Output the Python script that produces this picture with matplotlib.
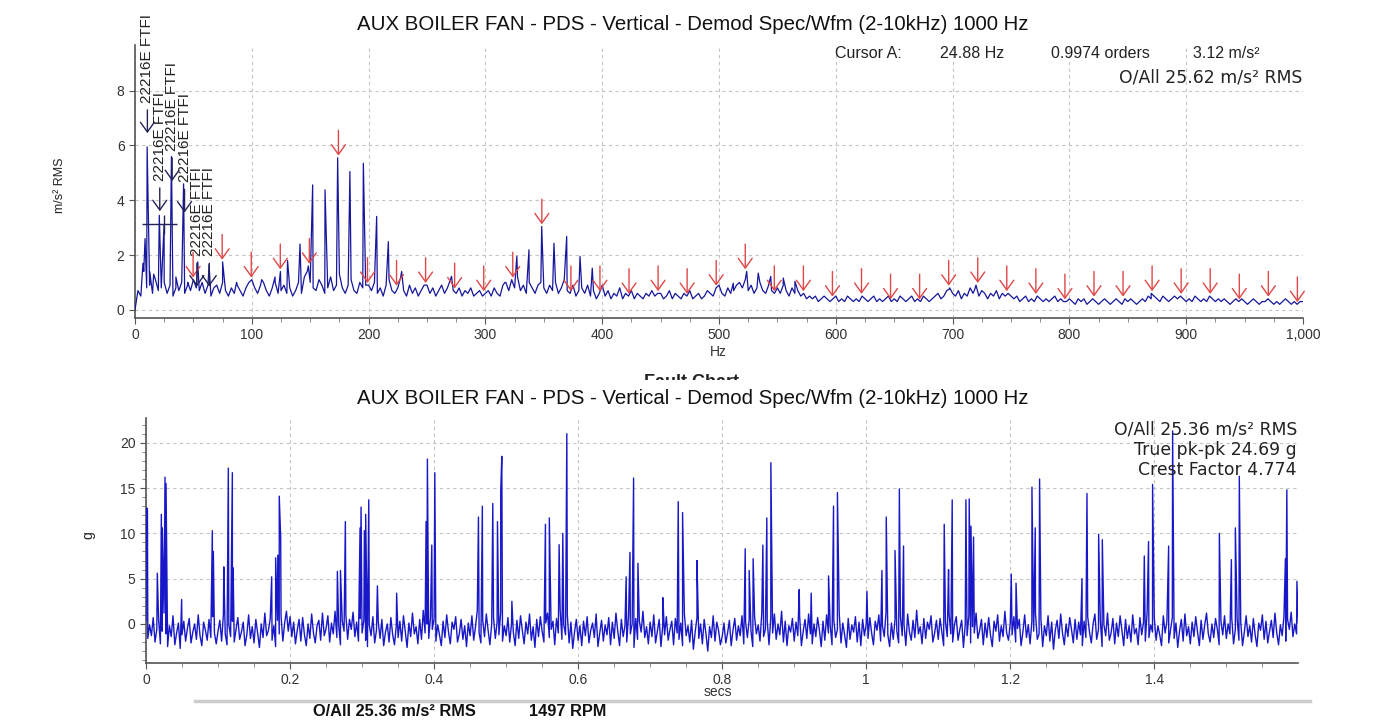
import matplotlib
matplotlib.use('Agg')
import matplotlib.pyplot as plt
from matplotlib.lines import Line2D
from matplotlib.patches import Rectangle
from matplotlib.ticker import FuncFormatter, MultipleLocator
import numpy as np

TITLE = "AUX BOILER FAN - PDS - Vertical - Demod Spec/Wfm (2-10kHz) 1000 Hz"

# ── spectrum (m/s² RMS), floor sampled every 2.5 Hz from 0 to 1000 Hz ─────────
spec_floor = [
    0.0, 0.7, 0.5, 1.4, 0.8, 0.9, 0.6, 1.1, 0.7, 0.8, 1.0, 0.6, 0.9, 0.5, 0.8, 0.7, 1.0, 0.6, 0.9, 0.7,
    1.1, 0.8, 0.7, 1.0, 0.6, 0.9, 0.5, 0.8, 0.9, 0.6, 1.0, 0.7, 0.5, 0.8, 0.6, 0.9, 0.7, 0.5, 0.8, 1.0,
    1.1, 0.8, 0.6, 0.9, 1.0, 0.7, 0.5, 0.8, 1.0, 0.6, 0.7, 0.9, 0.6, 0.8, 0.5, 0.7, 1.0, 0.6, 1.2, 1.4,
    1.0, 0.8, 0.7, 1.1, 0.9, 0.6, 0.8, 1.2, 0.7, 0.9, 1.3, 0.8, 0.6, 0.9, 1.1, 0.7, 0.6, 1.0, 0.8, 0.9,
    0.9, 0.7, 1.0, 0.6, 0.8, 0.5, 0.9, 1.1, 0.7, 0.6, 0.8, 1.2, 0.7, 0.5, 0.9, 0.6, 0.8, 0.5, 0.7, 0.9,
    0.9, 0.6, 0.8, 0.5, 0.7, 0.9, 0.6, 0.8, 1.1, 0.7, 0.6, 0.8, 0.5, 0.7, 0.6, 0.8, 0.5, 0.6, 0.7, 0.5,
    0.6, 0.7, 0.5, 0.8, 0.6, 0.5, 0.9, 1.0, 0.7, 1.1, 0.8, 1.2, 0.7, 0.9, 0.6, 1.0, 0.8, 0.6, 0.9, 1.0,
    0.8, 0.6, 0.9, 0.7, 1.0, 0.6, 0.8, 1.1, 0.7, 0.6, 0.9, 0.5, 0.7, 0.8, 0.6, 0.9, 0.5, 0.7, 0.4, 0.6,
    0.9, 0.5, 0.7, 0.4, 0.6, 0.5, 0.8, 0.4, 0.6, 0.5, 0.7, 0.4, 0.6, 0.5, 0.4, 0.6, 0.5, 0.7, 0.5, 0.6,
    0.6, 0.4, 0.5, 0.7, 0.4, 0.6, 0.5, 0.4, 0.6, 0.5, 0.7, 0.4, 0.5, 0.6, 0.4, 0.5, 0.7, 0.6, 0.5, 0.8,
    0.9, 0.6, 0.5, 0.8, 0.6, 0.7, 0.9, 1.0, 0.8, 1.1, 0.7, 0.9, 0.6, 0.8, 1.0, 0.7, 0.6, 0.9, 0.7, 0.6,
    0.8, 0.6, 0.9, 0.7, 0.5, 0.8, 0.6, 0.7, 0.5, 0.6, 0.4, 0.5, 0.4, 0.5, 0.3, 0.4, 0.5, 0.4, 0.3, 0.4,
    0.5, 0.3, 0.4, 0.3, 0.5, 0.4, 0.3, 0.4, 0.3, 0.5, 0.4, 0.3, 0.4, 0.5, 0.3, 0.4, 0.3, 0.4, 0.5, 0.3,
    0.4, 0.3, 0.5, 0.4, 0.3, 0.4, 0.5, 0.3, 0.4, 0.3, 0.5, 0.4, 0.3, 0.4, 0.5, 0.6, 0.4, 0.5, 0.7, 0.8,
    0.6, 0.5, 0.7, 0.4, 0.6, 0.5, 0.8, 0.6, 0.9, 0.5, 0.7, 0.6, 0.4, 0.6, 0.5, 0.7, 0.4, 0.6, 0.5, 0.6,
    0.5, 0.4, 0.5, 0.3, 0.4, 0.5, 0.3, 0.4, 0.3, 0.5, 0.4, 0.3, 0.4, 0.3, 0.4, 0.5, 0.3, 0.4, 0.3, 0.3,
    0.4, 0.3, 0.2, 0.4, 0.3, 0.4, 0.2, 0.3, 0.4, 0.3, 0.2, 0.3, 0.4, 0.3, 0.2, 0.3, 0.4, 0.3, 0.2, 0.4,
    0.3, 0.4, 0.3, 0.2, 0.3, 0.4, 0.3, 0.5, 0.4, 0.5, 0.4, 0.3, 0.5, 0.4, 0.3, 0.4, 0.5, 0.4, 0.5, 0.4,
    0.3, 0.4, 0.3, 0.5, 0.4, 0.3, 0.4, 0.3, 0.5, 0.4, 0.3, 0.4, 0.3, 0.4, 0.3, 0.2, 0.3, 0.4, 0.3, 0.4,
    0.3, 0.2, 0.3, 0.4, 0.3, 0.2, 0.3, 0.3, 0.4, 0.3, 0.2, 0.3, 0.2, 0.3, 0.4, 0.3, 0.2, 0.3, 0.2, 0.3,
    0.3,
]
spec_peak_hz = [6.8, 8.6, 10.4, 12.6, 16.0, 20.8, 24.9, 31.2, 35.0, 41.6, 45.2,
                53.7, 63.4, 75.0, 87.0, 108.5, 119.9, 124.5, 130.6, 141.3, 148.4,
                152.1, 162.7, 173.5, 184.0, 195.5, 206.9, 216.9, 228.3, 271.0,
                316.8, 326.9, 337.3, 348.2, 358.7, 369.6, 381.0, 391.5,
                512.2, 523.7, 533.6, 544.3, 555.0, 565.0, 697.0, 719.0, 870.0]
spec_peak_amp = [1.7, 2.6, 5.95, 1.4, 1.3, 3.45, 3.12, 5.6, 1.2, 4.6, 1.0,
                 1.75, 1.65, 1.75, 1.0, 1.1, 1.2, 1.4, 1.8, 2.4, 1.6,
                 4.56, 4.38, 5.55, 5.05, 5.35, 3.41, 2.49, 1.4, 1.22,
                 1.0, 1.95, 2.19, 3.04, 2.43, 2.68, 1.95, 1.52,
                 0.97, 1.4, 1.34, 1.22, 1.16, 1.04, 0.75, 0.75, 0.6]

cursor_hz = 24.88
cursor_amp = 3.12
harmonic_orders = list(range(2, 41))

ftf_hz = [10.6, 21.2, 31.8, 42.4, 53.0, 63.6]
ftf_tip = [6.45, 3.6, 4.7, 3.55, 0.85, 0.85]
ftf_label = "22216E FTFI"

# ── waveform (g), floor sampled every 2.5 ms from 0 to 1.6 s ──────────────────
wfm_dc = -0.4
wfm_floor = [
    0.8, -1.2, 0.3, -0.9, 1.1, -1.6, -0.2, 0.9, -1.8, -0.4, 1.6, -0.7, -2.1, 0.2, -1.0, 1.3, -1.9, -0.6, 0.5, -2.3,
    -0.8, 0.7, -1.5, -0.1, 1.0, -1.7, -0.5, 0.4, -1.3, 1.4, -0.9, -2.0, 0.6, -0.3, -1.4, 0.9, -1.1, 1.2, -0.6, -1.8,
    -0.4, 0.8, -1.5, 1.5, -0.7, -1.9, 0.3, -1.0, 0.7, -1.6, -0.2, 1.1, -1.3, -0.5, 0.6, -2.0, -0.8, 1.4, -1.2, 0.1,
    -1.7, 0.9, -0.6, -2.2, 0.4, -1.1, 1.6, -0.9, -0.3, 1.0, -1.4, 0.2, -2.1, 0.8, -0.7, 1.3, -1.5, 0.5, 1.8, -0.4,
    1.2, -1.0, 0.6, -1.8, -0.3, 0.9, -1.5, 1.1, -0.8, -2.0, 0.4, -1.2, 1.5, -0.6, -1.7, 0.2, 0.8, -1.4, 1.6, -0.9,
    -0.1, 1.3, -1.6, 0.5, -0.7, 1.8, -1.1, 0.3, -1.9, 0.7, -0.4, 1.4, -1.3, 0.9, -0.2, 1.7, -1.0, 0.6, -1.5, 1.0,
    -0.6, 0.8, -1.4, -2.1, 0.3, -0.9, 1.2, -1.7, -0.3, 0.6, -1.2, 0.9, -2.0, -0.5, 0.4, -1.6, 1.1, -0.8, -1.9, 0.2,
    -1.1, 0.7, -1.5, 1.3, -0.4, -2.2, 0.5, -1.0, 1.6, -0.7, 0.1, -1.8, 0.9, -1.3, 1.9, -0.6, 0.4, -1.2, 1.1, -0.2,
    1.0, -1.5, 0.3, -0.8, -2.0, 0.7, -1.1, 1.4, -0.5, -1.8, 0.6, -0.2, 1.2, -1.6, -0.7, 0.9, -1.3, 0.2, -2.1, 0.5,
    -0.9, 1.3, -1.4, 0.1, 1.9, -0.6, -1.7, 0.8, -1.0, 1.5, -0.3, -1.9, 0.4, 1.1, -1.2, 0.6, -0.8, 1.7, -1.5, 0.2,
    -0.9, 1.1, -1.6, 0.4, -0.5, -2.0, 0.8, -1.2, 1.3, -0.3, -1.8, 0.6, -0.7, 1.5, -1.4, 0.1, -2.2, 0.9, -1.0, 1.2,
    -0.4, -1.6, 0.5, 1.6, -1.1, -0.2, 0.7, -1.9, 1.0, -0.6, 2.0, -1.3, 0.3, -0.8, 1.4, -1.7, 0.6, -2.3, -0.5, 0.9,
    -1.4, 0.2, -2.0, 0.7, -0.9, 1.2, -1.7, -0.3, 0.5, -1.1, 1.5, -2.1, -0.6, 0.8, -1.5, 0.3, -0.8, 1.1, -1.9, 0.6,
    -1.2, 1.6, -0.4, -2.0, 0.9, -1.0, 0.2, -1.6, 1.3, -0.7, 0.4, -2.2, 1.0, -1.3, 0.7, -0.5, 1.8, -1.1, 0.1, -1.8,
    0.6, -1.0, 1.4, -1.7, -0.4, 0.9, -2.1, 0.3, -0.8, 1.2, -1.4, -0.2, 0.7, -1.9, 1.0, -0.6, -1.3, 0.5, -2.0, 1.5,
    -0.9, 0.2, -1.6, 0.8, -2.4, -0.5, 1.1, -1.2, 0.4, -1.8, 0.9, -0.7, -2.6, 0.1, -1.1, 1.3, -1.5, 0.6, -0.3, -1.9,
    -1.0, 0.5, -1.7, -0.6, 0.8, -2.0, -0.3, 1.0, -1.4, 0.2, -0.9, 1.3, -1.8, 0.6, -1.1, 0.9, -0.4, -2.1, 1.2, -0.7,
    0.3, -1.5, 1.6, -1.0, -0.2, 0.8, -1.9, 1.1, -0.6, 1.5, -1.3, 0.4, -0.8, 1.8, -1.6, 0.7, -2.0, 0.2, -0.5, 1.0,
    -1.5, 0.6, -0.9, 1.3, -2.0, -0.4, 0.9, -1.2, 1.5, -0.7, -1.8, 0.4, -1.0, 1.1, -0.3, -2.1, 0.7, -1.4, 1.4, -0.6,
    0.2, -1.9, 0.8, -1.1, -0.2, 1.6, -1.7, 0.5, -0.8, -2.2, 1.0, -1.3, 0.3, -0.5, 1.2, -1.6, 0.6, -2.0, 0.9, -0.9,
    0.4, -1.2, 1.1, -0.6, -1.9, 0.7, -0.3, 1.4, -1.5, 0.2, -1.0, 1.7, -0.8, -2.1, 0.5, -1.3, 0.9, -0.4, -1.7, 1.2,
    -0.9, 0.3, -2.0, 1.5, -0.5, -1.4, 0.8, -1.1, 1.9, -0.7, 0.1, -1.8, 1.0, -1.2, 0.6, -0.2, 1.3, -1.6, -0.6, 0.8,
    -1.3, 1.0, -0.5, -2.0, 0.6, -1.0, 1.5, -0.7, -1.6, 0.3, 1.2, -1.4, -0.2, 0.8, -2.2, 0.4, -0.9, 1.3, -1.7, 0.1,
    -0.6, 1.6, -1.2, -0.3, 0.9, -1.9, 0.5, -1.1, 1.1, -0.8, -2.1, 0.7, -0.4, 1.4, -1.5, 0.2, -1.0, 1.8, -0.6, -1.4,
    0.5, -0.8, 1.2, -1.6, -0.1, 0.9, -2.0, -0.5, 1.4, -1.1, 0.3, -1.8, 0.7, -0.4, 1.6, -1.3, -0.7, 1.0, -2.1, 0.2,
    -0.9, 1.3, -1.5, 0.6, -2.4, -0.3, 0.8, -1.2, 1.5, -0.6, -1.9, 0.4, -1.0, 1.1, -0.2, -1.7, 0.9, -1.3, 0.6, -0.8,
    -2.0, 0.7, -1.1, 1.2, -0.5, -1.7, 0.4, 1.5, -1.3, -0.2, 0.8, -2.1, 0.3, -0.9, 1.6, -1.4, -0.6, 1.0, -1.8, 0.5,
    -1.0, 1.3, -0.3, -2.0, 0.9, -1.2, 0.2, -1.6, 1.4, -0.7, -0.1, -1.9, 1.1, -0.8, 0.6, -1.5, 1.7, -1.1, 0.3, -0.5,
    1.0, -1.4, 0.2, -0.8, -2.0, 1.3, -0.6, 0.7, -1.7, -0.3, 1.1, -1.2, 0.5, -2.2, -0.4, 0.9, -1.5, 1.5, -0.9, 0.1,
    -1.8, 0.6, -1.0, 1.2, -0.5, -2.0, 0.8, -1.3, 0.3, 1.6, -0.7, -1.6, 0.4, -1.1, 1.0, -0.2, -1.9, 0.7, -0.8, 1.3,
    -1.2, 0.4, -0.7, 1.1, -1.8, -0.2, 0.9, -1.4, 0.6, -2.0, -0.5, 1.3, -1.0, 0.2, -1.6, 1.0, -0.8, -2.1, 0.5, -0.3,
    1.4, -1.3, 0.7, -1.7, -0.4, 0.8, -1.1, 1.6, -0.6, -1.9, 0.3, -0.9, 1.2, -1.5, 0.9, -0.2, 1.7, -1.0, 0.4, -0.7,
    0.5,
]
wfm_spike_s = [0.0005, 0.0012, 0.0020, 0.0157, 0.0213, 0.0227, 0.0264, 0.0278, 0.0495,
               0.0921, 0.0935, 0.1080, 0.1143, 0.1199, 0.1210, 0.1745, 0.1800, 0.1830,
               0.1850, 0.1870, 0.2657, 0.2700, 0.2768, 0.2972, 0.2986, 0.3032, 0.3050,
               0.3093, 0.3213, 0.3480, 0.3889, 0.3907, 0.3968, 0.4010, 0.4616, 0.4670,
               0.4815, 0.4880, 0.4925, 0.4940, 0.5080, 0.5546, 0.5600, 0.5736, 0.5787,
               0.5843, 0.6667, 0.6720, 0.6770, 0.6830, 0.7176, 0.7390, 0.7450, 0.7650,
               0.8320, 0.8375, 0.8430, 0.8565, 0.8620, 0.8676, 0.9070, 0.9236, 0.9477,
               0.9546, 0.9600, 1.0010, 1.0218, 1.0278, 1.0400, 1.0460, 1.0518, 1.1083,
               1.1143, 1.1194, 1.1384, 1.1430, 1.1454, 1.1490, 1.2014, 1.2080, 1.2301,
               1.2347, 1.2407, 1.2996, 1.3065, 1.3227, 1.3278, 1.3861, 1.3920, 1.3976,
               1.4199, 1.4254, 1.4903, 1.5070, 1.5125, 1.5180, 1.5820, 1.5840, 1.5980]
wfm_spike_g = [12.0, 12.8, 12.5, 5.6, 12.1, 10.6, 16.2, 15.5, 2.7,
               10.3, 8.0, 6.3, 17.2, 16.7, 6.2, 5.2, 7.3, 7.6,
               14.1, 9.5, 5.8, 5.9, 11.3, 10.6, 12.9, 10.3, 12.1,
               13.7, 4.2, 3.4, 11.3, 18.2, 8.7, 16.7, 11.8, 13.0,
               13.3, 11.3, 14.6, 18.5, 2.5, 11.0, 11.7, 8.75, 10.0,
               21.0, 5.2, 7.9, 16.1, 6.7, 2.9, 13.5, 12.3, 7.0,
               8.3, 5.9, 7.2, 8.7, 11.7, 17.8, 3.8, 3.4, 5.3,
               13.0, 14.5, 3.6, 5.9, 11.8, 8.1, 14.9, 8.6, 11.0,
               6.0, 13.7, 13.7, 13.8, 10.8, 9.6, 5.5, 4.5, 15.1,
               10.6, 16.0, 5.0, 14.4, 9.9, 9.3, 7.5, 9.1, 15.4,
               8.6, 21.3, 10.0, 7.1, 10.6, 16.3, 7.2, 14.8, 4.7]

W, H = 1400, 723


def px(x, y):
    """pixel position (from top-left) -> figure fraction"""
    return x / W, 1 - y / H


def merged(grid_step, floor, extra_x, extra_y):
    gx = np.arange(len(floor)) * grid_step
    x = np.concatenate([gx, extra_x])
    y = np.concatenate([np.asarray(floor, float), extra_y])
    order = np.argsort(x, kind='stable')
    return x[order], y[order]


def style_axes(ax):
    for side in ('top', 'right'):
        ax.spines[side].set_visible(False)
    for side in ('left', 'bottom'):
        ax.spines[side].set_color('#555555')
        ax.spines[side].set_linewidth(1.2)
    ax.tick_params(which='major', length=4, color='#555555', labelsize=10,
                   labelcolor='#333333')
    ax.tick_params(which='minor', length=3, color='#777777')
    ax.grid(True, which='major', ls=(0, (3, 3)), color='#c4c4c4', lw=0.8)
    for lab in ax.get_xticklabels() + ax.get_yticklabels():
        lab.set_family('Liberation Sans')


fig = plt.figure(figsize=(W / 100, H / 100), dpi=100)
fig.patch.set_facecolor('white')

# ── spectrum panel ────────────────────────────────────────────────────────────
ax1 = fig.add_axes([135 / W, 1 - 318 / H, (1303 - 135) / W, (318 - 45) / H])
sx, sy = merged(2.5, spec_floor, spec_peak_hz, spec_peak_amp)
ax1.plot(sx, sy, color='#16169c', lw=0.9, zorder=3)
ax1.set_xlim(0, 1000)
ax1.set_ylim(-0.3, 9.67)
ax1.xaxis.set_major_locator(MultipleLocator(100))
ax1.xaxis.set_minor_locator(MultipleLocator(25))
ax1.yaxis.set_major_locator(MultipleLocator(2))
ax1.xaxis.set_major_formatter(FuncFormatter(lambda v, p: f"{int(v):,}"))
style_axes(ax1)

arrow_style = '->,head_length=0.7,head_width=0.5'

# harmonic markers of the cursor frequency
for n in harmonic_orders:
    f = n * cursor_hz
    near = (sx > f - 1.6) & (sx < f + 1.6)
    tip = sy[near].max() + 0.08
    ax1.annotate('', xy=(f, tip), xytext=(f, tip + 0.92),
                 arrowprops=dict(arrowstyle=arrow_style, color='#e04848', lw=1.0,
                                 shrinkA=0, shrinkB=0),
                 zorder=4)

# bearing cage frequency markers
for f, tip in zip(ftf_hz, ftf_tip):
    ax1.annotate('', xy=(f, tip), xytext=(f, tip + 0.85),
                 arrowprops=dict(arrowstyle=arrow_style, color='#23235a', lw=1.0,
                                 shrinkA=0, shrinkB=0),
                 zorder=4)
    ax1.text(f, tip + 1.1, ftf_label, rotation=90, ha='center', va='bottom',
             fontsize=11, color='#222222', family='Liberation Sans', clip_on=False)

# cursor cross
ax1.hlines(cursor_amp, 6, 36, color='#23235a', lw=1.0, zorder=4)
ax1.vlines(cursor_hz, cursor_amp - 0.35, cursor_amp + 0.35, color='#23235a', lw=1.0, zorder=4)

fig.text(*px(693, 25), TITLE, ha='center', va='center', fontsize=14.7,
         family='Liberation Sans', color='#111111')
cur_y = 53
for x, s in [(835, "Cursor A:"), (940, "24.88 Hz"), (1051, "0.9974 orders"), (1193, "3.12 m/s²")]:
    fig.text(*px(x, cur_y), s, ha='left', va='center', fontsize=11.5,
             family='Liberation Sans', color='#222222')
fig.text(*px(1302, 77), "O/All 25.62 m/s² RMS", ha='right', va='center',
         fontsize=12.4, family='DejaVu Sans', color='#222222')
fig.text(*px(60, 185), "m/s² RMS", rotation=90, ha='center', va='center',
         fontsize=9, family='Liberation Sans', color='#222222')
fig.text(*px(718, 352), "Hz", ha='center', va='center', fontsize=10,
         family='Liberation Sans', color='#333333')

# half-hidden title of the chart behind
fig.text(*px(692, 374), "Fault Chart", ha='center', va='top', fontsize=13,
         weight='bold', family='Liberation Sans', color='#222222', zorder=1)
fig.patches.append(Rectangle(px(400, 390), 600 / W, 10 / H, transform=fig.transFigure,
                             facecolor='white', edgecolor='none', zorder=2))

# ── waveform panel ────────────────────────────────────────────────────────────
ax2 = fig.add_axes([146 / W, 1 - 662.7 / H, (1298 - 146) / W, (662.7 - 418.3) / H])
wx, wy = merged(0.0025, np.asarray(wfm_floor) + wfm_dc, wfm_spike_s, wfm_spike_g)
ax2.plot(wx, wy, color='#1818c8', lw=1.0, zorder=3)
ax2.set_xlim(0, 1.5995)
ax2.set_ylim(-4.28, 22.7)
ax2.xaxis.set_major_locator(MultipleLocator(0.2))
ax2.xaxis.set_minor_locator(MultipleLocator(0.05))
ax2.yaxis.set_major_locator(MultipleLocator(5))
ax2.yaxis.set_minor_locator(MultipleLocator(1))
ax2.xaxis.set_major_formatter(FuncFormatter(lambda v, p: f"{v:g}"))
style_axes(ax2)

fig.text(*px(693, 398), TITLE, ha='center', va='center', fontsize=14.7,
         family='Liberation Sans', color='#111111', zorder=3)
for y, s in [(430, "O/All 25.36 m/s² RMS"), (450, "True pk-pk 24.69 g"), (470, "Crest Factor 4.774")]:
    fig.text(*px(1297, y), s, ha='right', va='center', fontsize=12.4,
             family='DejaVu Sans', color='#222222')
fig.text(*px(88, 535), "g", rotation=90, ha='center', va='center', fontsize=10,
         family='Liberation Sans', color='#222222')
fig.text(*px(718, 692), "secs", ha='center', va='center', fontsize=10,
         family='Liberation Sans', color='#333333')

# footer
fig.lines.append(Line2D([195 / W, 1310 / W], [1 - 701 / H, 1 - 701 / H],
                        transform=fig.transFigure, color='#cccccc', lw=2.5))
fig.text(*px(313, 712), "O/All 25.36 m/s² RMS", ha='left', va='center', fontsize=11.8,
         weight='bold', family='Liberation Sans', color='#111111')
fig.text(*px(529, 712), "1497 RPM", ha='left', va='center', fontsize=11.8,
         weight='bold', family='Liberation Sans', color='#111111')

fig.savefig('out.png', dpi=100)
